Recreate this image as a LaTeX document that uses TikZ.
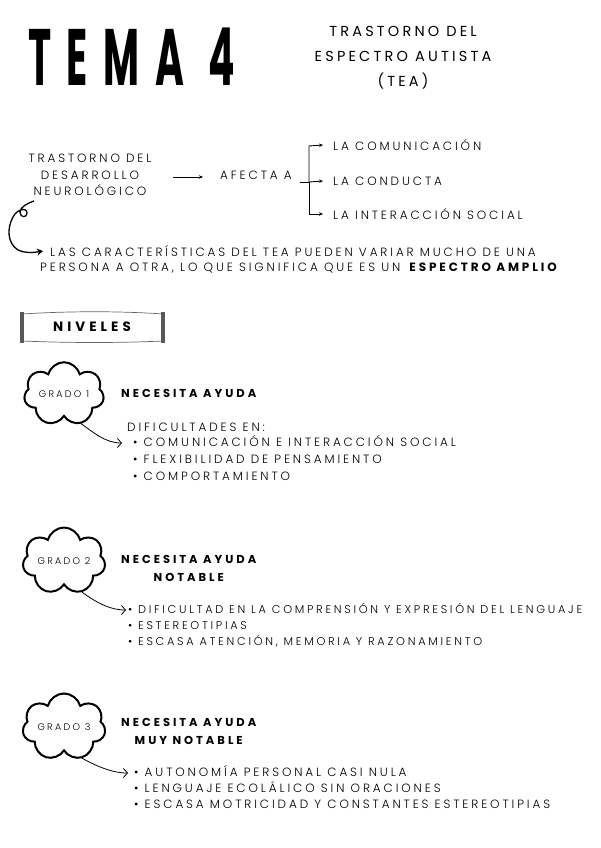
\documentclass[tikz,border=0pt]{standalone}
\usepackage{fontspec}
\setmainfont{Poppins}[UprightFont={* Light},BoldFont={* Bold},LetterSpace=24]
\newfontfamily\headfont{Poppins}[UprightFont={* Bold},LetterSpace=40]
\newfontfamily\hdfont{Poppins}[UprightFont={* Bold},LetterSpace=26]
\newfontfamily\subfont{Poppins}[UprightFont={*},LetterSpace=22]
\usetikzlibrary{shapes.symbols,arrows.meta}
\begin{document}
\begin{tikzpicture}[x=1pt,y=-1pt,
  txt/.style={font=\fontsize{12}{17}\selectfont, inner sep=0pt, align=left},
  ttl/.style={font=\fontsize{14.5}{25}\selectfont\subfont, inner sep=0pt, align=center},
  hd/.style={font=\fontsize{11.5}{18}\selectfont\hdfont, inner sep=0pt, align=center},
  grado/.style={cloud, cloud puffs=7, cloud puff arc=150, aspect=1.6, draw, line width=2pt,
     minimum width=80pt, minimum height=52pt, inner sep=0pt, font=\fontsize{9.5}{11}\selectfont},
  conn/.style={line width=0.9pt, -{Stealth[length=4pt,width=3.5pt]}},
  curl/.style={line width=1.3pt, -{Stealth[length=6pt,width=7pt]}},
  swoop/.style={line width=0.8pt, -{Straight Barb[length=4pt,width=9pt]}}]
\useasboundingbox (0,0) rectangle (600,848);

% title
\node[inner sep=0pt, anchor=west, xscale=0.49, font=\fontsize{80}{80}\selectfont\headfont] (tema) at (28,57) {TEMA 4};
\node[ttl] (sub) at (403,58) {TRASTORNO DEL\\ESPECTRO AUTISTA\\(TEA)};

% trastorno
\node[txt, align=center, font=\fontsize{12}{16.5}\selectfont] (tras) at (90,175) {TRASTORNO DEL\\DESARROLLO\\NEUROLÓGICO};
\node[txt, anchor=west] (afecta) at (220,175) {AFECTA A};
\draw[line width=0.9pt, -{Stealth[length=4pt,width=3.5pt]}] (173,177) -- (203,177);
\coordinate (br) at (300,182);
\coordinate (bx) at (309,182);
\node[txt, anchor=west] (l1) at (333,145) {LA COMUNICACIÓN};
\node[txt, anchor=west] (l2) at (333,181) {LA CONDUCTA};
\node[txt, anchor=west] (l3) at (333,214) {LA INTERACCIÓN SOCIAL};
\draw[line width=0.9pt] (br) -- (bx);
\draw[conn] (309,182) -- (309,146) -- (l1.west -| 323,0);
\draw[conn] (309,182) -- (l2.west -| 323,0);
\draw[conn] (309,182) -- (309,214) -- (l3.west -| 323,0);

% characteristics
\node[txt, anchor=west] (car1) at (50,251) {LAS CARACTERÍSTICAS DEL TEA PUEDEN VARIAR MUCHO DE UNA};
\node[txt, anchor=west] (car2) at (40,268) {PERSONA A OTRA, LO QUE SIGNIFICA QUE ES UN \textbf{ESPECTRO AMPLIO}};
\coordinate (cs) at (34,201);
\draw[curl] (cs) .. controls (28,203) and (20,207) .. (20,212)
  .. controls (20,218) and (27,218) .. (27,213)
  .. controls (27,207) and (17,209) .. (13,217)
  .. controls (7,228) and (7,243) .. (18,250)
  .. controls (24,253) and (32,253) .. (car1.west -| 43,0);

% niveles banner
\node[inner sep=0pt, font=\fontsize{13.5}{18}\selectfont\hdfont\addfontfeatures{LetterSpace=30}] (niv) at (92,327) {NIVELES};
\draw[line width=0.7pt, gray!80!black] (22,314) .. controls (70,311) and (120,311) .. (163,314);
\draw[line width=0.7pt, gray!80!black] (22,341) .. controls (70,343) and (120,343) .. (163,341);
\fill[gray!70!black] (20,312) rectangle (24,343);
\fill[gray!70!black] (161,312) rectangle (165,343);

% grado 1
\node[grado] (g1) at (64,394) {GRADO 1};
\node[hd, anchor=west] (n1) at (121,393) {NECESITA AYUDA};
\node[txt, anchor=west] (d1) at (127,427) {DIFICULTADES EN:};
\node[txt, anchor=north west] (b1) at (133,435) {• COMUNICACIÓN E INTERACCIÓN SOCIAL\\• FLEXIBILIDAD DE PENSAMIENTO\\• COMPORTAMIENTO};
\coordinate (e1) at (122,443);
\draw[swoop] (g1.-60) .. controls (93,432) and (105,443) .. (e1);

% grado 2
\node[grado] (g2) at (64,561) {GRADO 2};
\node[hd, anchor=west] (n2) at (121,568) {NECESITA AYUDA\\NOTABLE};
\node[txt, anchor=north west, font=\fontsize{11.3}{16}\selectfont] (b2) at (128,603) {• DIFICULTAD EN LA COMPRENSIÓN Y EXPRESIÓN DEL LENGUAJE\\• ESTEREOTIPIAS\\• ESCASA ATENCIÓN, MEMORIA Y RAZONAMIENTO};
\coordinate (e2) at (126,610);
\draw[swoop] (g2.-60) .. controls (93,600) and (108,610) .. (e2);

% grado 3
\node[grado] (g3) at (64,727) {GRADO 3};
\node[hd, anchor=west] (n3) at (121,731) {NECESITA AYUDA\\MUY NOTABLE};
\node[txt, anchor=north west, font=\fontsize{12}{16}\selectfont] (b3) at (134,765) {• AUTONOMÍA PERSONAL CASI NULA\\• LENGUAJE ECOLÁLICO SIN ORACIONES\\• ESCASA MOTRICIDAD Y CONSTANTES ESTEREOTIPIAS};
\coordinate (e3) at (128,773);
\draw[swoop] (g3.-60) .. controls (93,764) and (110,773) .. (e3);
\end{tikzpicture}
\end{document}
